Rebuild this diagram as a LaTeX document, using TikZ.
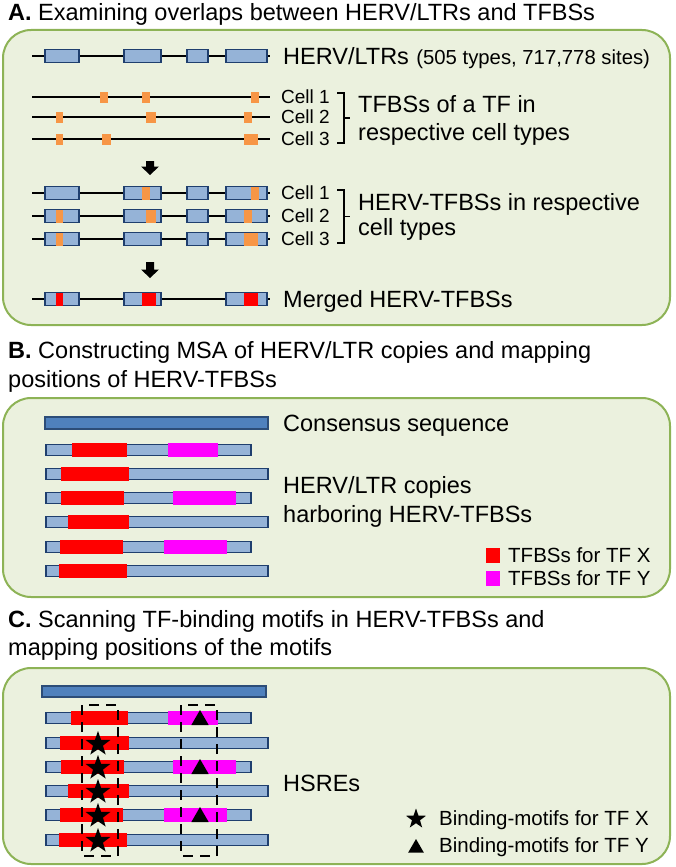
\documentclass[tikz,border=0pt]{standalone}
\usepackage{fontspec}
\setmainfont{Liberation Sans}
\usetikzlibrary{shapes.geometric}
\definecolor{panelfill}{HTML}{EBF1DE}
\definecolor{panelline}{HTML}{8DB356}
\definecolor{segfill}{HTML}{95B3D7}
\definecolor{segline}{HTML}{1F3F6E}
\definecolor{consfill}{HTML}{4F81BD}
\definecolor{consline}{HTML}{2C4D78}
\definecolor{tfbs}{HTML}{F79646}
\definecolor{tfx}{HTML}{FF0000}
\definecolor{tfy}{HTML}{FF00FF}
\begin{document}
\begin{tikzpicture}[x=1pt,y=-1pt,
  panel/.style={draw=panelline,fill=panelfill,line width=2pt,rounded corners=28pt},
  seg/.style={draw=segline,fill=segfill,line width=1.6pt},
  cons/.style={draw=consline,fill=consfill,line width=1.6pt},
  chrom/.style={draw=black,line width=2.6pt},
  ttl/.style={anchor=base west,inner sep=0pt,font=\fontsize{23.5}{28}\selectfont},
  lab/.style={anchor=base west,inner sep=0pt,font=\fontsize{23.5}{28}\selectfont},
  small/.style={anchor=base west,inner sep=0pt,font=\fontsize{20.3}{24}\selectfont},
  cell/.style={anchor=base west,inner sep=0pt,font=\fontsize{19}{22}\selectfont},
  leg/.style={anchor=base west,inner sep=0pt,font=\fontsize{20.5}{24}\selectfont},
  brk/.style={draw=black,line width=1.6pt},
  blockarrow/.style={fill=black},
  dashbox/.style={draw=black,line width=2pt,dash pattern=on 10pt off 7pt},
  starmark/.style={star,star points=5,star point ratio=2.5,fill=black,inner sep=0pt,minimum size=26pt},
  trimark/.style={regular polygon,regular polygon sides=3,fill=black,inner sep=0pt,minimum size=20pt}
]
\useasboundingbox (0,0) rectangle (675,867);

% ---------------- Panel A ----------------
\node[ttl] (tA) at (8,21) {\textbf{A.} Examining overlaps between HERV/LTRs and TFBSs};
\draw[panel] (3,30) rectangle (670,325);

% row: HERV/LTRs
\draw[chrom] (32,56) -- (270,56);
\foreach \a/\b in {45/79,124/161,187/208,226/267} \draw[seg] (\a,49.5) rectangle (\b,62.5);
\node[lab] (lherv) at (283,64) {HERV/LTRs};
\node[small] (lcount) at ([xshift=7pt]lherv.base east) {(505 types, 717,778 sites)};

% TFBS rows
\foreach \y in {97,117,139} \draw[chrom] (32,\y) -- (270,\y);
\foreach \a/\b in {100/108,142/150,251/259} \fill[tfbs] (\a,91.5) rectangle (\b,102.5);
\foreach \a/\b in {56/63,146/156,244/252} \fill[tfbs] (\a,111.5) rectangle (\b,122.5);
\foreach \a/\b in {56/63,102/111,244/258} \fill[tfbs] (\a,133.5) rectangle (\b,144.5);
\node[cell] (c1a) at (281,103.5) {Cell 1};
\node[cell] (c2a) at (281,123.5) {Cell 2};
\node[cell] (c3a) at (281,145.5) {Cell 3};
\draw[brk] (337,93) -- (344,93) -- (344,143) -- (337,143);
\draw[brk] (344,118) -- (350,118);
\node[lab] (ltf1) at (358,112) {TFBSs of a TF in};
\node[lab] (ltf2) at (358,140) {respective cell types};

% arrow 1
\fill[blockarrow] (146,161) -- (154,161) -- (154,166.5) -- (159,166.5) -- (150,175) -- (141,166.5) -- (146,166.5) -- cycle;

% HERV-TFBS rows
\foreach \y in {193,216,239} {
  \draw[chrom] (32,\y) -- (270,\y);
  \foreach \a/\b in {45/79,124/161,187/208,226/267} \draw[seg] (\a,\y-6.5) rectangle (\b,\y+6.5);
}
\foreach \a/\b in {142/150,251/259} \fill[tfbs] (\a,186.5) rectangle (\b,199.5);
\foreach \a/\b in {56/63,146/156,244/252} \fill[tfbs] (\a,209.5) rectangle (\b,222.5);
\foreach \a/\b in {56/63,244/258} \fill[tfbs] (\a,232.5) rectangle (\b,245.5);
\node[cell] (c1b) at (281,199.5) {Cell 1};
\node[cell] (c2b) at (281,222.5) {Cell 2};
\node[cell] (c3b) at (281,245.5) {Cell 3};
\draw[brk] (337,190) -- (344,190) -- (344,243) -- (337,243);
\draw[brk] (344,216.5) -- (350,216.5);
\node[lab] (lht1) at (358,210) {HERV-TFBSs in respective};
\node[lab] (lht2) at (358,235) {cell types};

% arrow 2
\fill[blockarrow] (146,262) -- (154,262) -- (154,269.5) -- (159,269.5) -- (150,278) -- (141,269.5) -- (146,269.5) -- cycle;

% merged row
\draw[chrom] (32,299) -- (270,299);
\foreach \a/\b in {45/79,124/161,226/267} \draw[seg] (\a,292.5) rectangle (\b,305.5);
\foreach \a/\b in {56/63,142/156,244/258} \fill[tfx] (\a,292.5) rectangle (\b,305.5);
\node[lab] (lmerge) at (283,307) {Merged HERV-TFBSs};

% ---------------- Panel B ----------------
\node[ttl] (tB1) at (8,358) {\textbf{B.} Constructing MSA of HERV/LTR copies and mapping};
\node[ttl] (tB2) at (8,387) {positions of HERV-TFBSs};
\draw[panel] (3,398) rectangle (670,597);
\draw[cons] (45,417) rectangle (268,429);
\foreach \y/\e/\ra/\rb/\ma/\mb in {450/251/72/127/168/218, 474/268/61/129/0/0, 498/251/61/124/173/236, 522/268/68/129/0/0, 547/251/60/123/164/227, 571/268/59/127/0/0} {
  \draw[seg] (46,\y-5.5) rectangle (\e,\y+5.5);
  \fill[tfx] (\ra,\y-7) rectangle (\rb,\y+7);
  \ifnum\ma>0 \fill[tfy] (\ma,\y-7) rectangle (\mb,\y+7); \fi
}
\node[lab] (lcons) at (283,431) {Consensus sequence};
\node[lab] (lcp1) at (283,493) {HERV/LTR copies};
\node[lab] (lcp2) at (283,522) {harboring HERV-TFBSs};
\fill[tfx] (486,548) rectangle (500,563);
\node[leg] (lgx) at (508,562) {TFBSs for TF X};
\fill[tfy] (486,571) rectangle (500,586);
\node[leg] (lgy) at (508,585) {TFBSs for TF Y};

% ---------------- Panel C ----------------
\node[ttl] (tC1) at (8,627) {\textbf{C.} Scanning TF-binding motifs in HERV-TFBSs and};
\node[ttl] (tC2) at (8,655) {mapping positions of the motifs};
\draw[panel] (3,668) rectangle (670,864);
\draw[cons] (42,686) rectangle (266,697);
\foreach \y/\e/\ra/\rb/\ma/\mb in {718/251/71/128/168/218, 743/268/60/129/0/0, 767/251/61/124/173/236, 791/268/68/129/0/0, 815/251/60/123/164/227, 840/268/59/127/0/0} {
  \draw[seg] (46,\y-5.5) rectangle (\e,\y+5.5);
  \fill[tfx] (\ra,\y-7) rectangle (\rb,\y+7);
  \ifnum\ma>0 \fill[tfy] (\ma,\y-7) rectangle (\mb,\y+7); \fi
}
\draw[dashbox] (82,705) rectangle (118,856);
\draw[dashbox] (181,705) rectangle (217,856);
\foreach \y [count=\i] in {743,767,791,815,840} \node[starmark] (st\i) at (98,\y+1) {};
\foreach \y [count=\i] in {718,767,815} \node[trimark] (tr\i) at (200,\y+2) {};
\node[lab] (lhsre) at (283,791) {HSREs};
\node[starmark,minimum size=21pt] (lgstar) at (416,819) {};
\node[leg] (lgbx) at (439,825.5) {Binding-motifs for TF X};
\node[trimark,minimum size=18pt] (lgtri) at (416,848) {};
\node[leg] (lgby) at (439,852.5) {Binding-motifs for TF Y};
\end{tikzpicture}
\end{document}
